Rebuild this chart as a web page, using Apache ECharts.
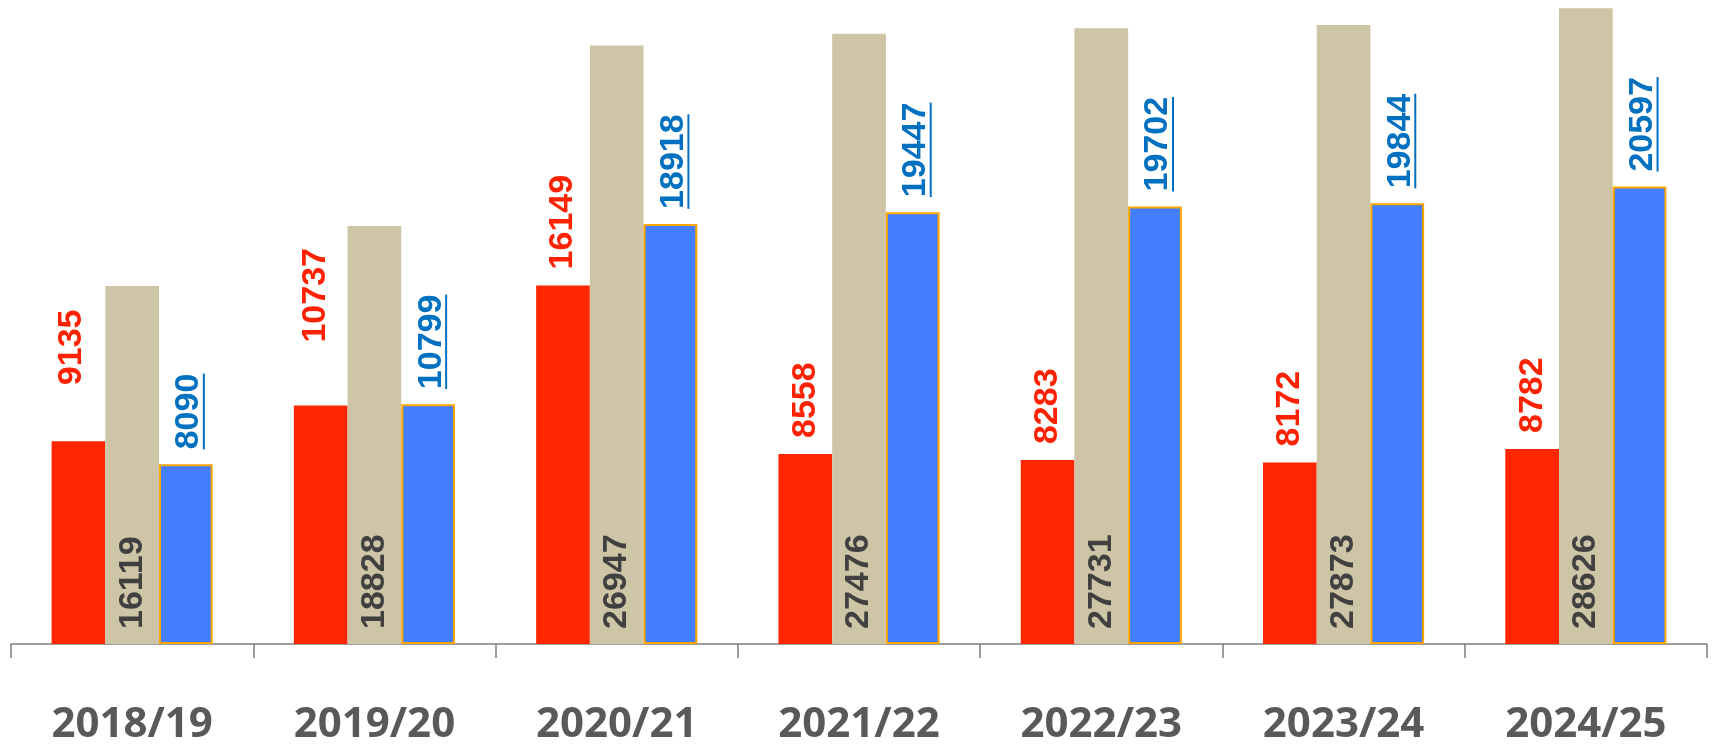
<!DOCTYPE html>
<html>
<head>
<meta charset="utf-8">
<script src="https://cdn.jsdelivr.net/npm/echarts@6/dist/echarts.min.js"></script>
<style>
html,body{margin:0;padding:0;background:#fff;}
#chart{width:1714px;height:746px;}
</style>
</head>
<body>
<div id="chart"></div>
<script>
const categories = ['2018/19','2019/20','2020/21','2021/22','2022/23','2023/24','2024/25'];
const redValues  = [9135, 10737, 16149, 8558, 8283, 8172, 8782];
const tanValues  = [16119, 18828, 26947, 27476, 27731, 27873, 28626];
const blueValues = [8090, 10799, 18918, 19447, 19702, 19844, 20597];

const labelFont = 'Liberation Sans, Arial, sans-serif';
const LABEL_SIZE = 34;

// extra manual lift / shift for some red labels (as in the original)
const redLabelTweak = {0: {distance: 56, offset: [0, -7]}, 1: {distance: 63, offset: [0, -5]}};

const chart = echarts.init(document.getElementById('chart'));

const redData = redValues.map((v, i) => {
  const t = redLabelTweak[i];
  return t ? {value: v, label: {distance: t.distance, offset: t.offset}} : v;
});

chart.setOption({
  animation: false,
  backgroundColor: '#ffffff',
  grid: {left: 11, right: 7, top: 0, bottom: 102, containLabel: false},
  xAxis: {
    type: 'category',
    data: categories,
    axisLine: {show: true, lineStyle: {color: '#7f7f7f', width: 1.5}},
    axisTick: {show: true, length: 14, lineStyle: {color: '#7f7f7f', width: 1.5}},
    axisLabel: {
      margin: 60,
      color: '#595959',
      fontFamily: 'Open Sans, sans-serif',
      fontWeight: 'bold',
      fontSize: 42
    }
  },
  yAxis: {
    type: 'value',
    min: 0,
    max: 29000,
    show: false,
    splitLine: {show: false}
  },
  series: [
    {
      name: 'red',
      type: 'bar',
      data: redData,
      barGap: '0%',
      barCategoryGap: '33.5%',
      itemStyle: {color: '#FF2600'},
      label: {
        show: true,
        position: 'top',
        rotate: 90,
        align: 'left',
        verticalAlign: 'middle',
        distance: 16,
        color: '#FF2200',
        fontFamily: labelFont,
        fontWeight: 'bold',
        fontSize: LABEL_SIZE
      }
    },
    {
      name: 'tan',
      type: 'bar',
      data: tanValues,
      barGap: '0%',
      barCategoryGap: '33.5%',
      itemStyle: {color: '#CEC5A6'},
      label: {
        show: true,
        position: 'insideBottom',
        rotate: 90,
        align: 'left',
        verticalAlign: 'middle',
        distance: 15,
        color: '#404040',
        fontFamily: labelFont,
        fontWeight: 'bold',
        fontSize: LABEL_SIZE
      }
    },
    {
      name: 'blue',
      type: 'bar',
      data: blueValues,
      barGap: '0%',
      barCategoryGap: '33.5%',
      itemStyle: {color: '#437EFF', borderColor: '#FFA500', borderWidth: 2},
      label: {
        show: true,
        position: 'top',
        rotate: 90,
        align: 'left',
        verticalAlign: 'middle',
        distance: 15,
        offset: [0, 5],
        color: '#0070C0',
        fontFamily: labelFont,
        fontWeight: 'bold',
        fontSize: LABEL_SIZE,
        formatter: p => '{v|' + p.value + '}\n{u| }',
        rich: {
          v: {color: '#0070C0', fontFamily: labelFont, fontWeight: 'bold', fontSize: LABEL_SIZE, lineHeight: 26},
          u: {width: '100%', height: 2, lineHeight: 4, fontSize: 2, backgroundColor: '#0070C0'}
        }
      }
    }
  ]
});
</script>
</body>
</html>
